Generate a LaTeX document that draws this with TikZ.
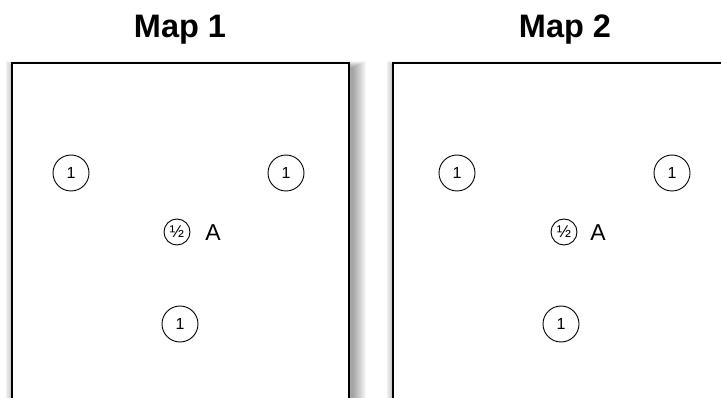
\documentclass[tikz,border=0pt]{standalone}
\usepackage{fontspec}
\setmainfont{Liberation Sans}
\begin{document}
\begin{tikzpicture}[x=1pt,y=-1pt,
  maptitle/.style={font=\bfseries\fontsize{32.5}{38}\selectfont, anchor=center},
  mapframe/.style={draw=black, line width=1.5pt, fill=white},
  unit/.style={circle, draw=black, line width=0.9pt, minimum size=36pt, inner sep=0pt, font=\fontsize{16}{19}\selectfont},
  half/.style={circle, draw=black, line width=0.9pt, minimum size=26pt, inner sep=0pt, font=\fontsize{17}{20}\selectfont},
  tag/.style={font=\fontsize{23}{27}\selectfont, anchor=center}]
\useasboundingbox (0,0) rectangle (721,398);
\clip (0,0) rectangle (721,398);

% soft drop shadows behind the two frames (cast mostly to the right)
\foreach \k in {0,...,13}{
  \fill[black, opacity=0.03] (12+4-0.8*\k,63+5-0.5*\k) rectangle (349+4+\k,430);
  \fill[black, opacity=0.03] (393+4-0.8*\k,63+5-0.5*\k) rectangle (760,430);
}

% frames
\path[mapframe] (12,63) rectangle (349,420);
\path[mapframe] (393,63) rectangle (740,420);

% titles
\node[maptitle] (t1) at (180,30) {Map 1};
\node[maptitle] (t2) at (565,30) {Map 2};

% map 1
\node[unit] (a1) at (71,173) {1};
\node[unit] (a2) at (286,173) {1};
\node[half] (ah) at (177,232) {½};
\node[tag]  (aA) at (213,233) {A};
\node[unit] (a3) at (180,324) {1};

% map 2
\node[unit] (b1) at (457,173) {1};
\node[unit] (b2) at (672,173) {1};
\node[half] (bh) at (564,232) {½};
\node[tag]  (bA) at (598,233) {A};
\node[unit] (b3) at (561,324) {1};
\end{tikzpicture}
\end{document}
